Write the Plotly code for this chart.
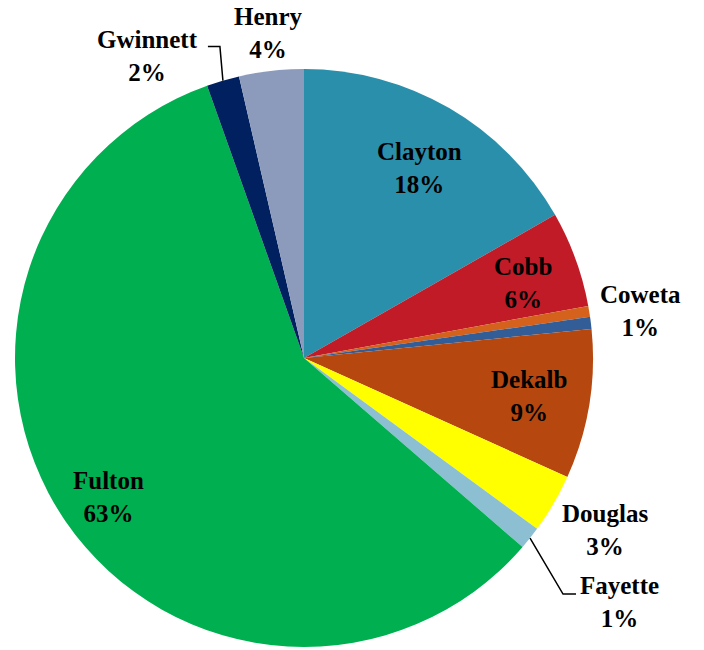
import math
import plotly.graph_objects as go

# Data (labels as printed on the chart)
counties = ["Clayton", "Cobb", "Coweta", "(unlabeled)", "Dekalb", "Douglas",
            "Fayette", "Fulton", "Gwinnett", "Henry"]
values = [16.75, 5.36, 0.61, 0.67, 8.36, 3.31, 1.28, 58.2, 1.83, 3.61]
pct_labels = ["18%", "6%", "1%", "", "9%", "3%", "1%", "63%", "2%", "4%"]
colors = ["#2A8FAB", "#C11B28", "#D4621C", "#335D96", "#B5470F", "#FFFF00",
          "#8BBFD1", "#00B050", "#002060", "#8C9BBB"]

# Layout geometry (pixels)
W, H = 704, 650
CX, CY, R = 304, 358, 289

# label placement: (radius factor, angle offset deg)
label_pos = {
    "Clayton": (0.77, 1.0), "Cobb": (0.80, 1.0), "Coweta": (1.177, 1.36),
    "Dekalb": (0.79, 0.2), "Douglas": (1.20, -0.5), "Fayette": (1.38, -0.9),
    "Fulton": (0.83, -0.9), "Gwinnett": (1.175, -11.06), "Henry": (1.13, 0.2),
}

FONT = "Liberation Serif, Times New Roman, serif"

fig = go.Figure(go.Pie(
    labels=counties, values=values, sort=False, direction="clockwise",
    rotation=0, marker=dict(colors=colors, line=dict(width=0)),
    textinfo="none", hoverinfo="label+percent", showlegend=False,
    domain=dict(x=[(CX - R) / W, (CX + R) / W],
                y=[(H - CY - R) / H, (H - CY + R) / H]),
))

total = sum(values)
cum = 0.0
mids = {}
for name, v in zip(counties, values):
    mids[name] = (cum + v / 2) / total * 360.0
    cum += v

def to_paper(px, py):
    return px / W, 1 - py / H

def polar(ang, rad):
    a = math.radians(ang)
    return CX + rad * math.sin(a), CY - rad * math.cos(a)

annotations = []
for name, pct in zip(counties, pct_labels):
    if name not in label_pos:
        continue
    k, off = label_pos[name]
    px, py = polar(mids[name] + off, k * R)
    x, y = to_paper(px, py)
    annotations.append(dict(
        x=x, y=y, xref="paper", yref="paper", showarrow=False,
        text=f"<b>{name}<br>{pct}</b>", xanchor="center", yanchor="middle",
        font=dict(family=FONT, size=25, color="#000000"),
    ))

shapes = []
# Leader line for Fayette
sx, sy = polar(mids["Fayette"], R)
pts = [(sx, sy), (sx + 33, sy + 56), (sx + 46, sy + 56)]
# Leader line for Gwinnett
gx, gy = polar(mids["Gwinnett"], R)
pts2 = [(gx, gy), (gx - 3, gy - 34), (gx - 15, gy - 34)]
for p in (pts, pts2):
    path = "M " + " L ".join(f"{to_paper(a, b)[0]},{to_paper(a, b)[1]}" for a, b in p)
    shapes.append(dict(type="path", path=path, xref="paper", yref="paper",
                       line=dict(color="#000000", width=1.5)))

fig.update_layout(
    width=W, height=H, margin=dict(l=0, r=0, t=0, b=0),
    paper_bgcolor="#FFFFFF", plot_bgcolor="#FFFFFF",
    font=dict(family=FONT),
    annotations=annotations, shapes=shapes,
)

fig.write_html("out.html", config={"displayModeBar": False},
               post_script="document.body.style.margin='0';document.body.style.overflow='hidden';")
